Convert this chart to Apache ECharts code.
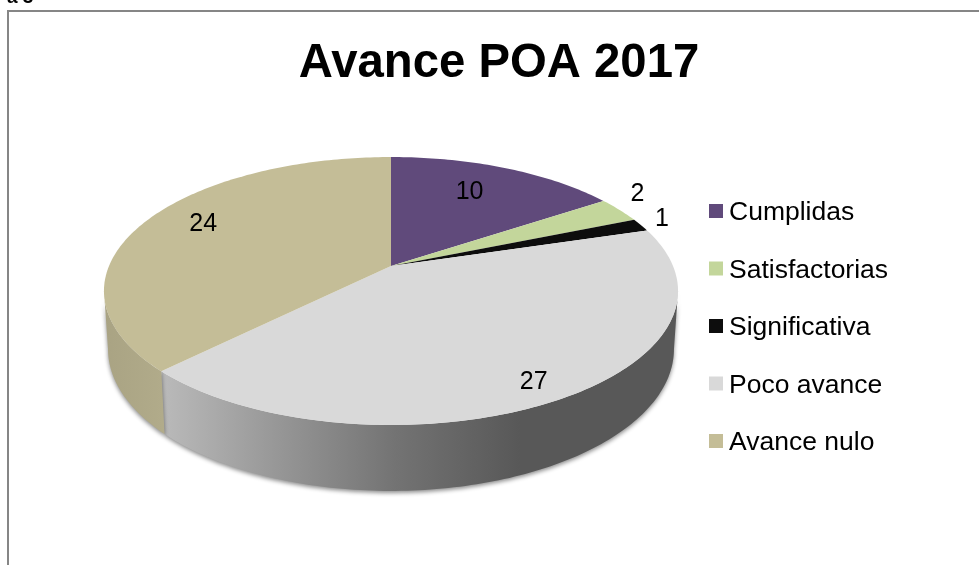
<!DOCTYPE html>
<html style="height: 100%">
<head>
    <meta charset="utf-8">
</head>
<body style="height: 100%; margin: 0; background: #fff">
<div id="container" style="height:100%"></div>
<script type="text/javascript" src="https://cdn.jsdelivr.net/npm/echarts@6/dist/echarts.min.js"></script>
<script type="text/javascript">
    var categories = ['Cumplidas', 'Satisfactorias', 'Significativa', 'Poco avance', 'Avance nulo'];
    var values = [10, 2, 1, 27, 24];
    var colors = ['#604a7b', '#c3d69b', '#0d0d0d', '#d9d9d9', '#c4bd97'];

    // label place per slice: share of radius along the mid angle, then a nudge in px
    var labelPlace = [[0.655, -6], [1.085, -12], [1.09, -2], [0.85, 7], [0.76, -6]];

    // perspective of the disc, top face and bottom face
    var K = 0.1866;
    var topFace = {cx: 391, cy: 266, a: 282, b: 129.3};
    var bottomFace = {cx: 391, cy: 322.5, a: 278, b: 137};
    var FONT = '"Liberation Sans", Arial, sans-serif';

    var total = values.reduce(function (s, v) { return s + v; }, 0);
    var edgeFrom = 90 + Math.asin(K) * 180 / Math.PI;
    var edgeTo = 360 - edgeFrom;

    function project(face, deg, r) {
        var t = deg * Math.PI / 180;
        var u = Math.sin(t) * r;
        var v = -Math.cos(t) * r;
        var w = 1 - K * v;
        return [face.cx + face.a * u / w, face.cy + face.b * v / w];
    }

    function arc(face, from, to) {
        var pts = [];
        var n = Math.max(2, Math.ceil(Math.abs(to - from)));
        for (var i = 0; i <= n; i++) {
            pts.push(project(face, from + (to - from) * i / n, 1));
        }
        return pts;
    }

    function sideFill(index) {
        if (index === 4) {
            return {type: 'linear', x: 104, y: 0, x2: 170, y2: 0, global: true, colorStops: [
                {offset: 0, color: '#a9a383'}, {offset: 1, color: '#b2ac8b'}
            ]};
        }
        return {type: 'linear', x: 165, y: 0, x2: 520, y2: 0, global: true, colorStops: [
            {offset: 0, color: '#b9b9b9'}, {offset: 0.65, color: '#737373'}, {offset: 1, color: '#585858'}
        ]};
    }

    function sliceRenderer(index) {
        return function () {
            var before = 0;
            for (var i = 0; i < index; i++) {
                before += values[i];
            }
            var from = before / total * 360;
            var to = (before + values[index]) / total * 360;
            var mid = (from + to) / 2;
            var children = [];

            var sideFrom = Math.max(from, edgeFrom);
            var sideTo = Math.min(to, edgeTo);
            if (sideTo > sideFrom) {
                children.push({
                    type: 'polygon',
                    z2: 0,
                    shape: {points: arc(topFace, sideFrom, sideTo).concat(arc(bottomFace, sideTo, sideFrom))},
                    style: {
                        fill: sideFill(index),
                        shadowColor: 'rgba(0,0,0,0.45)',
                        shadowBlur: 4,
                        shadowOffsetY: 2
                    }
                });
            }

            children.push({
                type: 'polygon',
                z2: 1,
                shape: {points: [[topFace.cx, topFace.cy]].concat(arc(topFace, from, to))},
                style: {fill: colors[index]}
            });

            var spot = project(topFace, mid, labelPlace[index][0]);
            children.push({
                type: 'text',
                z2: 2,
                x: spot[0],
                y: spot[1] + labelPlace[index][1],
                style: {
                    text: String(values[index]),
                    fill: '#000',
                    font: '25px ' + FONT,
                    textAlign: 'center',
                    textVerticalAlign: 'middle'
                }
            });
            return {type: 'group', children: children};
        };
    }

    var series = categories.map(function (name, index) {
        return {
            name: name,
            type: 'custom',
            coordinateSystem: 'none',
            silent: true,
            animation: false,
            itemStyle: {color: colors[index]},
            data: [[values[index]]],
            renderItem: sliceRenderer(index)
        };
    });

    var myChart = echarts.init(document.getElementById('container'));
    var option = {
        animation: false,
        backgroundColor: '#fff',
        title: {
            text: 'Avance POA 2017',
            left: 499,
            top: 40,
            textAlign: 'center',
            textVerticalAlign: 'top',
            padding: 0,
            textStyle: {fontFamily: FONT, fontSize: 47.3, fontWeight: 'bold', color: '#000'}
        },
        legend: {
            data: categories,
            orient: 'vertical',
            left: 709,
            top: 195.5,
            icon: 'rect',
            itemWidth: 14,
            itemHeight: 14,
            itemGap: 26.5,
            padding: 0,
            selectedMode: false,
            formatter: '{t|{name}}',
            textStyle: {
                color: '#000',
                rich: {
                    t: {fontFamily: FONT, fontSize: 26.5, color: '#000', lineHeight: 30, padding: [4, 0, 0, 1]}
                }
            }
        },
        graphic: [
            {
                type: 'polyline',
                silent: true,
                shape: {points: [[8, 565], [8, 11], [979, 11]]},
                style: {fill: null, stroke: '#868686', lineWidth: 2}
            },
            {
                type: 'text',
                silent: true,
                x: 7,
                y: 7,
                style: {text: 'a 3', fill: '#000', font: 'bold 19px ' + FONT, textVerticalAlign: 'bottom'}
            }
        ],
        series: series
    };
    myChart.setOption(option);
</script>
</body>
</html>
